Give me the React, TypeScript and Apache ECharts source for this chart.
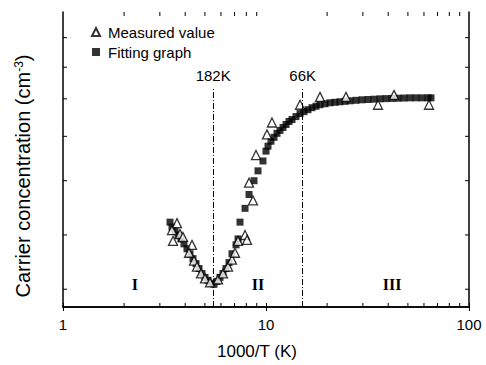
import React, { useEffect, useRef } from 'react';
import * as echarts from 'echarts';

// Fitting graph (1000/T, relative carrier concentration)
const fitX = [3.366, 3.443, 3.563, 3.686, 3.813, 3.945, 4.082, 4.223, 4.369, 4.52, 4.677, 4.839, 5.007, 5.18, 5.36, 5.546, 5.737, 5.935, 6.141, 6.353, 6.574, 6.8, 7.117, 7.28, 7.447, 7.882, 8.249, 8.729, 9.133, 9.665, 10.0,
  10.23, 10.58, 10.95, 11.33, 11.72, 12.13, 12.55, 12.98, 13.43, 14.05, 14.71, 15.39, 16.1, 16.85, 17.63, 18.45, 19.53, 20.67, 21.88, 23.14, 24.5, 25.94, 27.76, 29.71, 31.8, 34.04, 36.44, 39.0, 41.75, 44.7, 47.84, 51.22, 54.82, 58.69, 62.82, 64.98];
const fitY = [86, 81, 77, 73, 69, 64, 59, 54, 49, 44, 39, 34, 30, 27, 24, 23, 26, 30, 34, 39, 45, 54, 63, 69, 86, 100, 114, 128, 138, 148, 158,
  163, 168, 172, 176, 179, 182, 185, 188, 190, 193, 196, 198, 200, 202, 203.5, 205, 206, 207, 207.5, 208, 208.5, 209, 209.5, 210, 210.3, 210.6, 211, 211.2, 211.4, 211.6, 211.8, 212, 212, 212, 212, 212];

// Measured values
const measX = [3.443, 3.644, 3.483, 3.77, 3.9, 4.32, 4.176, 4.419, 4.572, 4.784, 5.007, 5.299, 5.802, 6.141, 6.499, 6.8, 7.036, 7.28, 7.882, 8.062, 8.63, 8.249, 8.928, 10.11, 10.7, 14.71, 18.45, 24.78, 35.63, 42.72, 63.53];
const measY = [78, 85, 67, 74, 71, 63, 55, 47, 41, 34, 29, 25, 28, 34, 41, 48, 55, 67, 73, 68, 108, 126, 154, 175, 187, 205, 213, 213, 205, 215, 205];

// Axis ticks
const xTickLabels = ['1', '10', '100'];
const xMinorTicks = [2, 3, 4, 5, 6, 7, 8, 9, 20, 30, 40, 50, 60, 70, 80, 90];
const yTicks = [18, 73, 128, 173, 211, 243, 273];

// Transition temperatures (K) and dash-dot line top
const transitionTemps = [182, 66];
const transitionTop = 221;

// Region labels
const regionLabels = ['I', 'II', 'III'];
const regionX = [2.26, 9.13, 41.8];
const regionY = 23;

const FONT = '"Liberation Sans", Arial, sans-serif';

export default function App() {
  const ref = useRef<HTMLDivElement>(null);
  useEffect(() => {
    if (!ref.current) return;
    const chart = echarts.init(ref.current, undefined, { renderer: 'svg' });

    const fitData = fitX.map((x, i) => [x, fitY[i]]);
    const measData = measX.map((x, i) => [x, measY[i]]);
    const regionData = regionLabels.map((l, i) => ({ name: l, value: [regionX[i], regionY] }));

    const xAxisBase = {
      type: 'log',
      logBase: 10,
      min: 1,
      max: 100,
      splitLine: { show: false },
      axisLine: { show: true, lineStyle: { color: '#000', width: 1.5 } },
      axisTick: { show: true, inside: true, length: 4, lineStyle: { color: '#000', width: 1 } },
      minorTick: { show: false },
    };
    const yAxisBase = {
      type: 'value',
      min: 0,
      max: 299,
      splitLine: { show: false },
      axisLine: { show: true, lineStyle: { color: '#000', width: 1.5 } },
      axisTick: { show: false },
      axisLabel: { show: false },
    };

    chart.setOption({
      animation: false,
      backgroundColor: '#fff',
      grid: { left: 63, top: 12, width: 406, height: 299 },
      legend: {
        orient: 'vertical',
        left: 86,
        top: 17,
        itemWidth: 8,
        itemHeight: 8,
        itemGap: 0,
        data: ['Measured value', 'Fitting graph'],
        textStyle: { fontFamily: FONT, fontSize: 15, color: '#000', lineHeight: 20, padding: [0, 0, 0, 3] },
      },
      graphic: [
        {
          type: 'text',
          x: 23,
          y: 176,
          rotation: Math.PI / 2,
          style: {
            text: 'Carrier concentration (cm{sup|-3})',
            fontFamily: FONT,
            fontSize: 20,
            fill: '#000',
            align: 'center',
            verticalAlign: 'middle',
            rich: { sup: { fontFamily: FONT, fontSize: 12, fill: '#000', verticalAlign: 'top', padding: [0, 0, 8, 0] } },
          },
        },
      ],
      xAxis: [
        {
          ...xAxisBase,
          position: 'bottom',
          axisLabel: {
            show: true,
            fontFamily: FONT,
            fontSize: 15,
            color: '#000',
            margin: 10,
            formatter: (v: number) => xTickLabels[Math.round(Math.log10(v))] ?? '',
          },
          name: '1000/T (K)',
          nameLocation: 'middle',
          nameGap: 36,
          nameTextStyle: { fontFamily: FONT, fontSize: 17, color: '#000', padding: [0, 18, 0, 0] },
        },
        { ...xAxisBase, position: 'top', axisLabel: { show: false } },
      ],
      yAxis: [
        { ...yAxisBase, position: 'left' },
        { ...yAxisBase, position: 'right' },
      ],
      series: [
        {
          name: 'Fitting graph',
          type: 'scatter',
          symbol: 'rect',
          symbolSize: 7,
          itemStyle: { color: '#000' },
          data: fitData,
          z: 3,
          markLine: {
            silent: true,
            symbol: ['none', 'none'],
            lineStyle: { color: '#000', width: 1, type: [6, 2, 1, 2] },
            label: { show: true, position: 'end', fontFamily: FONT, fontSize: 15, color: '#000', distance: 6 },
            data: transitionTemps.map((t) => [
              { coord: [1000 / t, 0] },
              { coord: [1000 / t, transitionTop], label: { formatter: `${t}K` } },
            ]),
          },
        },
        {
          name: 'Measured value',
          type: 'scatter',
          symbol: 'triangle',
          symbolSize: 9,
          itemStyle: { color: '#fff', borderColor: '#000', borderWidth: 1.3 },
          data: measData,
          z: 4,
        },
        {
          name: 'regions',
          type: 'scatter',
          symbol: 'circle',
          symbolSize: 1,
          itemStyle: { color: '#fff', opacity: 1 },
          data: regionData,
          label: {
            show: true,
            position: 'inside',
            formatter: (p: any) => p.name,
            fontFamily: '"Liberation Serif", "Times New Roman", serif',
            fontSize: 16,
            fontWeight: 'bold',
            color: '#000',
            opacity: 1,
          },
          z: 2,
        },
        {
          name: 'xminor',
          type: 'custom',
          silent: true,
          data: xMinorTicks.map((v) => [v, 0]),
          renderItem: (params: any, api: any) => {
            const p = api.coord([api.value(0), 0]);
            const cs = params.coordSys;
            const b = cs.y + cs.height;
            return {
              type: 'group',
              children: [
                { type: 'line', shape: { x1: p[0], y1: b, x2: p[0], y2: b - 4 }, style: { stroke: '#000', lineWidth: 1 } },
                { type: 'line', shape: { x1: p[0], y1: cs.y, x2: p[0], y2: cs.y + 4 }, style: { stroke: '#000', lineWidth: 1 } },
              ],
            };
          },
        },
        {
          name: 'yticks',
          type: 'custom',
          silent: true,
          data: yTicks.map((v) => [1, v]),
          renderItem: (params: any, api: any) => {
            const p = api.coord([1, api.value(1)]);
            const cs = params.coordSys;
            const r = cs.x + cs.width;
            return {
              type: 'group',
              children: [
                { type: 'line', shape: { x1: cs.x, y1: p[1], x2: cs.x + 4, y2: p[1] }, style: { stroke: '#000', lineWidth: 1 } },
                { type: 'line', shape: { x1: r, y1: p[1], x2: r - 4, y2: p[1] }, style: { stroke: '#000', lineWidth: 1 } },
              ],
            };
          },
        },
      ],
    });
    return () => chart.dispose();
  }, []);

  return (
    <div
      ref={ref}
      style={{ position: 'fixed', left: 0, top: 0, width: 486, height: 365, background: '#fff' }}
    />
  );
}
